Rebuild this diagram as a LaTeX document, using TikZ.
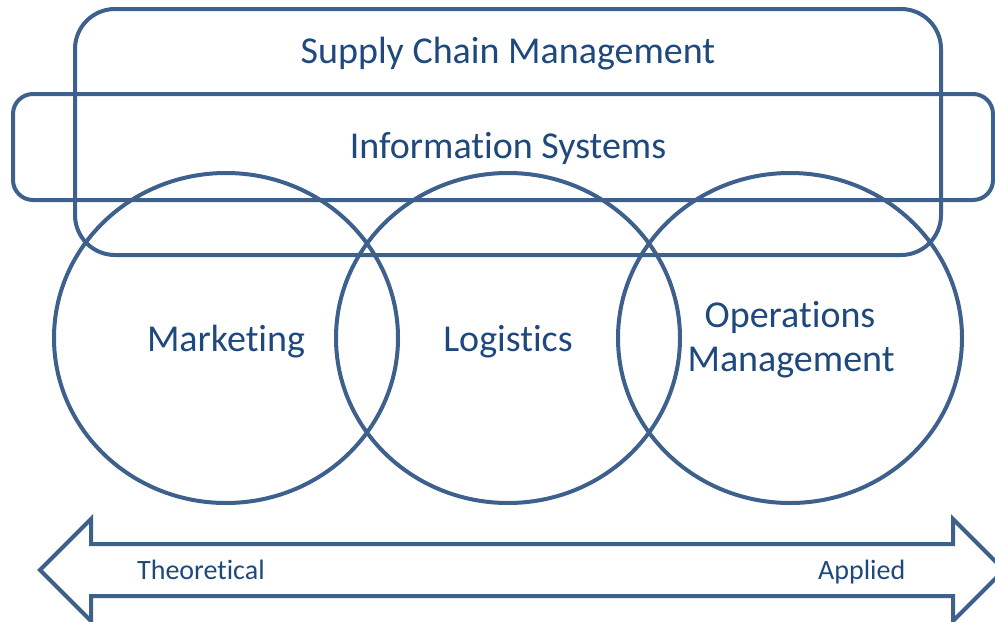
\documentclass[tikz,border=0pt]{standalone}
\usepackage{fontspec}
\setmainfont{Carlito}[Ligatures=NoCommon]
\usetikzlibrary{shapes.geometric}
\definecolor{lineblue}{RGB}{62,96,140}
\definecolor{textblue}{RGB}{31,73,125}
\tikzset{
  outline/.style={draw=lineblue, line width=4pt, inner sep=0pt, outer sep=0pt},
  rbox/.style={outline, rectangle},
  venn/.style={outline, ellipse, minimum width=344pt, minimum height=330pt},
  biglabel/.style={text=textblue, font=\fontsize{38}{44}\selectfont, inner sep=0pt, anchor=base, align=center},
  smalllabel/.style={text=textblue, font=\fontsize{28}{30}\selectfont, inner sep=0pt, anchor=base west},
}
\begin{document}
\begin{tikzpicture}[x=1pt, y=-1pt]
\useasboundingbox (0,0) rectangle (995,621);
% boxes
\node[rbox, rounded corners=40pt, minimum width=866pt, minimum height=246pt] (scm) at (508,132) {};
\node[rbox, rounded corners=20pt, minimum width=980pt, minimum height=106pt] (is) at (503,147) {};
% circles
\node[venn] (mkt) at (226,338) {};
\node[venn] (log) at (508,338) {};
\node[venn] (ops) at (790,338) {};
% labels
\node[biglabel] (scmlbl) at (508,63) {Supply Chain Management};
\node[biglabel] (islbl) at (508,158) {Information Systems};
\node[biglabel] (mktlbl) at (226,351) {Marketing};
\node[biglabel] (loglbl) at (508,351) {Logistics};
\node[biglabel] (opslbl1) at (790,327) {Operations};
\node[biglabel] (opslbl2) at (791,371) {Management};
% double arrow
\draw[draw=lineblue, line width=4pt, line join=miter]
  (40,570) -- (91,519) -- (91,544) -- (953,544) -- (953,519) -- (1004,570)
  -- (953,621) -- (953,596) -- (91,596) -- (91,621) -- cycle;
\node[smalllabel] (theo) at (137,579) {Theoretical};
\node[smalllabel] (appl) at (818,579) {Applied};
\end{tikzpicture}
\end{document}
